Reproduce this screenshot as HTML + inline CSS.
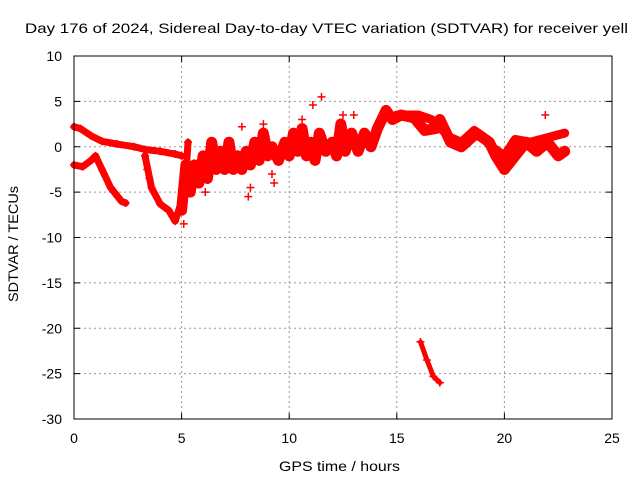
<!DOCTYPE html>
<html><head><meta charset="utf-8"><style>
body{margin:0;background:#fff;}
svg{display:block;font-family:"Liberation Sans",sans-serif;}
</style></head><body>
<svg id="chart" width="640" height="480">
<text x="25" y="33" font-size="14" textLength="603" lengthAdjust="spacingAndGlyphs">Day 176 of 2024, Sidereal Day-to-day VTEC variation (SDTVAR) for receiver yell</text>
<text x="279" y="471" font-size="14" textLength="121" lengthAdjust="spacingAndGlyphs">GPS time / hours</text>
<text transform="translate(18,302) rotate(-90)" font-size="14" textLength="116" lengthAdjust="spacingAndGlyphs">SDTVAR / TECUs</text>
<g id="grid"></g><g id="marks"></g>
<rect x="74" y="56" width="538" height="363" fill="none" stroke="#000"/>
</svg>
<script>
const xTicks=[0,5,10,15,20,25];
const yTicks=[10,5,0,-5,-10,-15,-20,-25,-30];
const trackA=[[0,2.2],[0.3,2.0],[0.8,1.2],[1.3,0.6],[2,0.3],[2.8,0.0],[3.3,-0.3],[4,-0.5],[4.7,-0.8],[5,-1.0]];
const trackB=[[0,-2],[0.4,-2.2],[0.8,-1.5],[1.0,-1.0],[1.3,-2.5],[1.7,-4.5],[2.2,-6.0],[2.4,-6.2]];
const trackC=[[3.3,-1],[3.6,-4.5],[4.0,-6.3],[4.4,-7.0],[4.7,-8.2],[5.0,-6],[5.2,-3],[5.3,0.5]];
const trackMain=[[5.0,-7],[5.2,-2],[5.4,-5],[5.6,-2],[5.8,-4],[6.0,-1],[6.2,-3.5],[6.4,0.5],[6.6,-2.5],[6.8,-0.5],[7.0,-2.5],[7.2,0.5],[7.4,-2.5],[7.6,-1],[7.8,-2.5],[8.0,-0.5],[8.2,-2],[8.4,0.5],[8.6,-1.5],[8.8,1.5],[9.0,-1],[9.2,0],[9.5,-1.5],[9.8,0.5],[10,-1],[10.2,1.5],[10.4,-0.5],[10.6,2.0],[10.8,-1],[11.0,0.5],[11.2,-1.5],[11.4,1.5],[11.7,-0.5],[12,0.5],[12.2,-1],[12.4,2.5],[12.6,-0.5],[12.9,1.5],[13.2,-0.5],[13.5,1.5],[13.8,0],[14.1,2],[14.5,4.0],[14.8,3.0],[15.2,3.5],[15.8,3.2],[16.3,1.8],[16.8,2.0],[17,3.0],[17.5,0.5],[18,0],[18.7,1.5],[19.3,0.5],[19.6,-1],[20,-2.5],[20.5,-1],[21,0.5],[21.5,-0.5],[22,0.5],[22.5,-1.0],[22.8,-0.5]];
const trackUpper=[[15,3.5],[16,3.5],[16.6,3.0],[17.5,1.0],[18,0.5],[18.6,1.8],[19,1.0],[19.4,0],[20,-1.0],[20.5,0.8],[21.2,0.5],[22,1.0],[22.8,1.5]];
const trackD=[[16.1,-21.5],[16.4,-23.5],[16.7,-25.3],[17.0,-26]];
const outliers=[[11.5,5.5],[7.8,2.2],[8.2,-4.5],[9.3,-4.0],[5.1,-8.5],[21.9,3.5],[12.5,3.5],[11.1,4.6],[6.1,-5],[8.8,2.5],[3.4,-2.5],[3.5,-3.5],[8.1,-5.5],[9.2,-3],[10.6,3],[13.0,3.5]];
const X=v=>74+v*538/25, Y=v=>56+(10-v)*363/40;
const NS="http://www.w3.org/2000/svg";
const grid=document.getElementById('grid'), marks=document.getElementById('marks');
function mk(t,a,p){const e=document.createElementNS(NS,t);for(const k in a)e.setAttribute(k,a[k]);p.appendChild(e);return e;}
xTicks.forEach(v=>{
 if(v>0&&v<25){const l=mk('line',{x1:X(v),x2:X(v),y1:56,y2:419,stroke:'#999','stroke-dasharray':'2,3'},grid);
 
 }
 mk('line',{x1:X(v),x2:X(v),y1:419,y2:413,stroke:'#000'},grid);
 mk('line',{x1:X(v),x2:X(v),y1:56,y2:62,stroke:'#000'},grid);
 const t=mk('text',{x:X(v),y:443,'font-size':14,'text-anchor':'middle'},grid);t.textContent=v;
 
 
});
yTicks.forEach(v=>{
 if(v<10&&v>-30){const l=mk('line',{x1:74,x2:612,y1:Y(v),y2:Y(v),stroke:'#999','stroke-dasharray':'2,3'},grid);
 
 }
 mk('line',{x1:74,x2:80,y1:Y(v),y2:Y(v),stroke:'#000'},grid);
 mk('line',{x1:606,x2:612,y1:Y(v),y2:Y(v),stroke:'#000'},grid);
 const t=mk('text',{x:62,y:Y(v)+5,'font-size':14,'text-anchor':'end'},grid);t.textContent=v;
 
 
});
function plus(p){const g=mk('path',{d:`M${X(p[0])-4},${Y(p[1])}h8M${X(p[0])},${Y(p[1])-4}v8`,stroke:'#f00','stroke-width':1.5},marks);
 
 }
function track(arr,w,name){
 const pl=mk('polyline',{points:arr.map(p=>X(p[0])+','+Y(p[1])).join(' '),fill:'none',stroke:'#f00','stroke-width':w,'stroke-linejoin':'round','stroke-linecap':'round'},marks);
 
 
 arr.forEach(plus);
}
track(trackA,7,'track-a');
track(trackB,7,'track-b');
track(trackC,7,'track-c');
track(trackMain,11,'track-main');
track(trackUpper,9,'track-upper');
track(trackD,5,'track-d');
outliers.forEach(plus);
</script>
</body></html>
